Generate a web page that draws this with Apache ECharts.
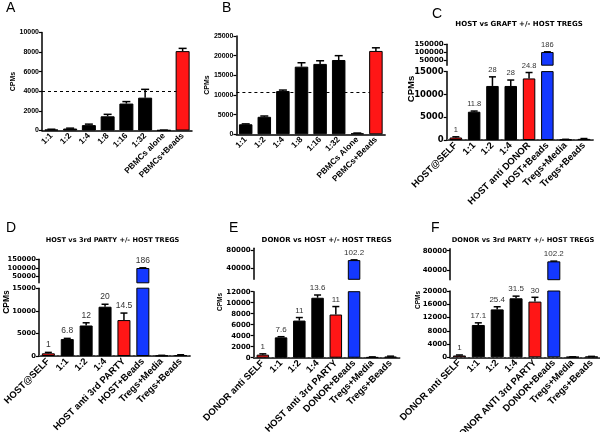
<!DOCTYPE html>
<html><head><meta charset="utf-8">
<script src="https://cdn.jsdelivr.net/npm/echarts@6/dist/echarts.min.js"></script>
<style>html,body{margin:0;padding:0;background:#fff}#c{width:600px;height:432px}</style>
</head><body><div id="c"></div>
<script>
// ---------- DATA ----------
// Panel A
const catsA = ['1:1','1:2','1:4','1:8','1:16','1:32','PBMCs alone','PBMCs+Beads'];
const valsA = [100, 200, 550, 1450, 2750, 3350, 30, 8100];
const errA  = [130, 240, 650, 1650, 2950, 4200, 40, 8380];
const groupsA = ['ratio','ratio','ratio','ratio','ratio','ratio','ctl','pos'];
const refA = 4000;
const ticksA = [0, 2000, 4000, 6000, 8000, 10000];

// Panel B
const catsB = ['1:1','1:2','1:4','1:8','1:16','1:32','PBMCs Alone','PBMCs+Beads'];
const valsB = [2550, 4450, 11000, 17200, 17900, 18900, 250, 21200];
const errB  = [2650, 4650, 11250, 18200, 18700, 20000, 320, 22000];
const groupsB = ['ratio','ratio','ratio','ratio','ratio','ratio','ctl','pos'];
const refB = 10600;
const ticksB = [0, 5000, 10000, 15000, 20000, 25000];

// Panel C
const titleC = 'HOST vs GRAFT +/- HOST TREGS';
const catsC = ['HOST@SELF','1:1','1:2','1:4','HOST anti DONOR','HOST+Beads','Tregs+Media','Tregs+Beads'];
const valsC = [550, 6200, 11850, 11850, 13500, 100000, 100, 250];
const errC  = [700, 6350, 13850, 13150, 14800, 101500, 150, 320];
const groupsC = ['self','ratio','ratio','ratio','mlr','beads','treg','treg'];
const annC = ['1','11.8','28','28','24.8','186','',''];
const lowTicksC = [0, 5000, 10000, 15000];
const upTicksC = [50000, 100000, 150000];

// Panel D
const titleD = 'HOST vs 3rd PARTY +/- HOST TREGS';
const catsD = ['HOST@SELF','1:1','1:2','1:4','HOST anti 3rd PARTY','HOST+Beads','Tregs+Media','Tregs+Beads'];
const valsD = [600, 3750, 6750, 10900, 7950, 100000, 100, 200];
const errD  = [800, 3900, 7350, 11450, 9500, 101000, 150, 280];
const groupsD = ['self','ratio','ratio','ratio','mlr','beads','treg','treg'];
const annD = ['1','6.8','12','20','14.5','186','',''];
const lowTicksD = [0, 5000, 10000, 15000];
const upTicksD = [50000, 100000, 150000];

// Panel E
const titleE = 'DONOR vs HOST +/- HOST TREGS';
const catsE = ['DONOR anti SELF','1:1','1:2','1:4','HOST anti 3rd PARTY','DONOR+Beads','Tregs+Media','Tregs+Beads'];
const valsE = [550, 3700, 6750, 10900, 7850, 58000, 100, 200];
const errE  = [700, 3820, 7300, 11400, 9300, 58500, 150, 280];
const groupsE = ['self','ratio','ratio','ratio','mlr','beads','treg','treg'];
const annE = ['1','7.6','11','13.6','11','102.2','',''];
const lowTicksE = [0, 2000, 4000, 6000, 8000, 10000, 12000];
const upTicksE = [40000, 80000];

// Panel F
const titleF = 'DONOR vs 3rd PARTY +/- HOST TREGS';
const catsF = ['DONOR anti SELF','1:1','1:2','1:4','DONOR ANTI 3rd PARTY','DONOR+Beads','Tregs+Media','Tregs+Beads'];
const valsF = [550, 9750, 14450, 17800, 16800, 58000, 100, 200];
const errF  = [700, 10400, 15250, 18450, 18100, 58500, 150, 280];
const groupsF = ['self','ratio','ratio','ratio','mlr','beads','treg','treg'];
const annF = ['1','17.1','25.4','31.5','30','102.2','',''];
const lowTicksF = [0, 4000, 8000, 12000, 16000, 20000];
const upTicksF = [40000, 80000];

const baseLevel = 150; // dotted baseline in C-F

// ---------- STYLE ----------
const RED = '#ff1616', BLUE = '#1438ff', BLACK = '#000000';
const colorOf = {ratio: BLACK, ctl: BLACK, treg: BLACK, pos: RED, self: RED, mlr: RED, beads: BLUE};

const grid = [], xAxis = [], yAxis = [], series = [];

function yAxisCfg(gi, min, max, ticks, font) {
  return {
    type: 'value', gridIndex: gi, min: min, max: max,
    axisLine: {show: true, lineStyle: {color: '#000', width: 1.5}},
    axisTick: {show: true, length: 3, inside: false, customValues: ticks, lineStyle: {color: '#000', width: 1.2}},
    splitLine: {show: false},
    axisLabel: {customValues: ticks, hideOverlap: false, showMinLabel: true, showMaxLabel: true,
      formatter: function (v) { return String(v); },
      color: '#000', fontWeight: 'bold', fontFamily: font.family, fontSize: font.size,
      lineHeight: font.lh || font.size, margin: 3}
  };
}

function errSeries(gi, items, p) {
  return {
    type: 'custom', xAxisIndex: gi, yAxisIndex: gi, silent: true, z: 5,
    encode: {x: 0, y: 2},
    data: items,
    renderItem: function (params, api) {
      const i = api.value(0), v = api.value(1), e = api.value(2);
      const p0 = api.coord([i, v]);
      const p1 = api.coord([i, e]);
      const w = p.capW;
      const ch = [
        {type: 'line', shape: {x1: p0[0], y1: p0[1], x2: p1[0], y2: p1[1]}, style: {stroke: '#000', lineWidth: 1.5}},
        {type: 'line', shape: {x1: p1[0] - w / 2, y1: p1[1], x2: p1[0] + w / 2, y2: p1[1]}, style: {stroke: '#000', lineWidth: 1.5}}
      ];
      if (p.ann && p.ann[i]) {
        ch.push({type: 'text', style: {text: p.ann[i], x: p1[0], y: p1[1] - 3, align: 'center', verticalAlign: 'bottom',
          font: p.annSize + 'px "Liberation Sans", Arial, sans-serif', fill: '#333'}});
      }
      return {type: 'group', children: ch};
    }
  };
}

function mkGrid(left, top, width, height) {
  return {left: left, top: top, width: width, height: height, containLabel: false, outerBoundsMode: 'none'};
}

function addPanel(p) {
  const lo = p.lo;
  const gi = grid.length;
  grid.push(mkGrid(p.left, lo.top, p.width, lo.bottom - lo.top));
  xAxis.push({
    type: 'category', gridIndex: gi, data: p.cats,
    axisLine: {lineStyle: {color: '#000', width: 1.5}},
    axisTick: {show: false},
    axisLabel: {rotate: 45, interval: 0, color: '#000', fontWeight: 'bold', fontFamily: '"Liberation Sans", Arial, sans-serif', fontSize: p.xSize, margin: 4}
  });
  yAxis.push(yAxisCfg(gi, 0, lo.max, lo.ticks, p.yFont));
  const barData = p.vals.map((v, i) => ({value: v, itemStyle: {color: colorOf[p.groups[i]]}}));
  const bar = {
    type: 'bar', xAxisIndex: gi, yAxisIndex: gi, data: barData, barWidth: p.barWidth, clip: true,
    itemStyle: {borderColor: '#000', borderWidth: 1}, silent: true, z: 3
  };
  const mlData = [];
  if (p.ref != null) mlData.push({yAxis: p.ref, lineStyle: {type: [3, 3], color: '#000', width: 1}});
  if (p.base != null) mlData.push({yAxis: p.base, lineStyle: {type: [2, 2], color: '#666', width: 1}});
  if (mlData.length) bar.markLine = {silent: true, symbol: 'none', label: {show: false}, data: mlData, z: 2};
  series.push(bar);
  const lowItems = [], upItems = [];
  p.vals.forEach((v, i) => {
    if (v > lo.max) upItems.push([i, v, p.errs[i]]); else lowItems.push([i, v, p.errs[i]]);
  });
  series.push(errSeries(gi, lowItems, p));
  if (p.up) {
    const up = p.up;
    const gu = grid.length;
    grid.push(mkGrid(p.left, up.top, p.width, up.bottom - up.top));
    xAxis.push({type: 'category', gridIndex: gu, data: p.cats, show: false});
    yAxis.push(yAxisCfg(gu, up.min, up.max, up.ticks, p.upFont || p.yFont));
    series.push({
      type: 'bar', xAxisIndex: gu, yAxisIndex: gu, barWidth: p.barWidth, clip: true, silent: true, z: 3,
      data: p.vals.map((v, i) => (v > lo.max ? {value: v, itemStyle: {color: colorOf[p.groups[i]]}} : '-')),
      itemStyle: {borderColor: '#000', borderWidth: 1}
    });
    series.push(errSeries(gu, upItems, p));
  }
}

const DJ = '"DejaVu Sans", sans-serif';
const LB = '"Liberation Sans", Arial, sans-serif';

addPanel({cats: catsA, vals: valsA, errs: errA, groups: groupsA, ref: refA,
  left: 42, width: 150, lo: {top: 32.5, bottom: 130.5, max: 10000, ticks: ticksA},
  barWidth: 14, capW: 8, xSize: 8.4, yFont: {family: LB, size: 7}});
addPanel({cats: catsB, vals: valsB, errs: errB, groups: groupsB, ref: refB,
  left: 236.4, width: 148.8, lo: {top: 36, bottom: 134.3, max: 25000, ticks: ticksB},
  barWidth: 13.5, capW: 8, xSize: 8.4, yFont: {family: LB, size: 7}});
addPanel({cats: catsC, vals: valsC, errs: errC, groups: groupsC, ann: annC, annSize: 7.5, base: baseLevel,
  left: 446.7, width: 146.4, lo: {top: 71.6, bottom: 140, max: 15000, ticks: lowTicksC},
  up: {top: 44.3, bottom: 65.2, min: 15000, max: 150000, ticks: upTicksC},
  barWidth: 12.5, capW: 7, xSize: 9.5, yFont: {family: DJ, size: 8.5}, upFont: {family: DJ, size: 7, lh: 6}});
addPanel({cats: catsD, vals: valsD, errs: errD, groups: groupsD, ann: annD, annSize: 8.5, base: baseLevel,
  left: 38.9, width: 151.2, lo: {top: 288.2, bottom: 356, max: 15000, ticks: lowTicksD},
  up: {top: 259.3, bottom: 282.8, min: 15000, max: 150000, ticks: upTicksD},
  barWidth: 13, capW: 7, xSize: 9.5, yFont: {family: DJ, size: 6.8}});
addPanel({cats: catsE, vals: valsE, errs: errE, groups: groupsE, ann: annE, annSize: 8, base: baseLevel,
  left: 253.7, width: 146, lo: {top: 291.7, bottom: 357.7, max: 12000, ticks: lowTicksE},
  up: {top: 248.2, bottom: 279.3, min: 16000, max: 84000, ticks: upTicksE},
  barWidth: 12.5, capW: 7, xSize: 9.5, yFont: {family: DJ, size: 7}});
addPanel({cats: catsF, vals: valsF, errs: errF, groups: groupsF, ann: annF, annSize: 8, base: baseLevel,
  left: 450, width: 151, lo: {top: 291, bottom: 357.3, max: 20000, ticks: lowTicksF},
  up: {top: 248.8, bottom: 279.7, min: 20000, max: 84000, ticks: upTicksF},
  barWidth: 13, capW: 7, xSize: 9.5, yFont: {family: DJ, size: 7}});

function txt(t, x, y, font, opts) {
  opts = opts || {};
  return {type: 'text', x: x, y: y, rotation: opts.rot || 0, silent: true,
    style: {text: t, font: font, fill: '#000', align: opts.align || 'left', verticalAlign: opts.va || 'top'}};
}
const letterFont = '14px "Liberation Sans", Arial, sans-serif';
const graphics = [
  txt('A', 6, 1, letterFont), txt('B', 222, 1, letterFont), txt('C', 432, 7, letterFont),
  txt('D', 6, 221, letterFont), txt('E', 229, 221, letterFont), txt('F', 431, 221, letterFont),
  txt(titleC, 519, 24.5, 'bold 7px ' + DJ, {align: 'center', va: 'middle'}),
  txt(titleD, 112.5, 240, 'bold 6.6px ' + DJ, {align: 'center', va: 'middle'}),
  txt(titleE, 326.7, 240.5, 'bold 7px ' + DJ, {align: 'center', va: 'middle'}),
  txt(titleF, 523, 240, 'bold 6.7px ' + DJ, {align: 'center', va: 'middle'}),
  txt('CPMs', 13, 81.5, 'bold 7px ' + LB, {align: 'center', va: 'middle', rot: Math.PI / 2}),
  txt('CPMs', 207, 85, 'bold 7px ' + LB, {align: 'center', va: 'middle', rot: Math.PI / 2}),
  txt('CPMs', 411, 89, 'bold 9.5px ' + LB, {align: 'center', va: 'middle', rot: Math.PI / 2}),
  txt('CPMs', 6.5, 302, 'bold 8.5px ' + LB, {align: 'center', va: 'middle', rot: Math.PI / 2}),
  txt('CPMs', 220, 302, 'bold 6.5px ' + LB, {align: 'center', va: 'middle', rot: Math.PI / 2}),
  txt('CPMs', 418, 300, 'bold 6.5px ' + LB, {align: 'center', va: 'middle', rot: Math.PI / 2})
];

const chart = echarts.init(document.getElementById('c'), null, {renderer: 'canvas'});
chart.setOption({
  animation: false,
  backgroundColor: '#fff',
  grid: grid, xAxis: xAxis, yAxis: yAxis, series: series,
  graphic: graphics
});
</script></body></html>
